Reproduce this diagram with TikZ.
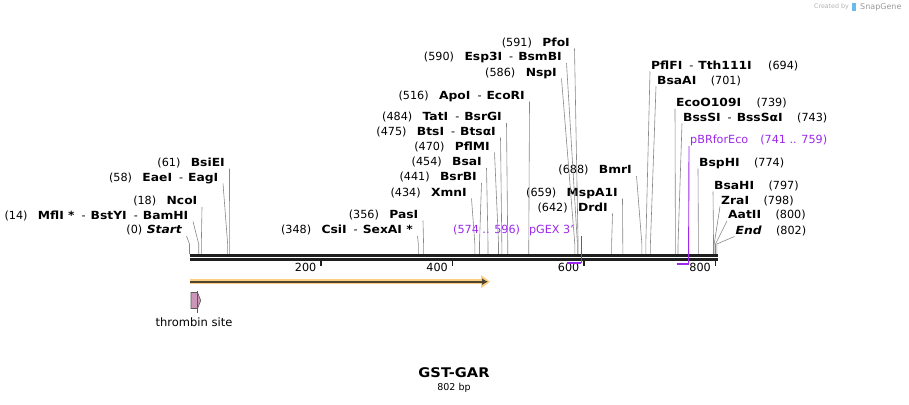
\documentclass[tikz,border=0pt]{standalone}
\usepackage{fontspec}
\setmainfont{DejaVu Sans}[BoldFeatures={FakeStretch=1.1},BoldItalicFeatures={FakeStretch=1.1}]
\usetikzlibrary{positioning,arrows.meta}
\definecolor{cutgray}{RGB}{135,135,135}
\definecolor{primer}{RGB}{155,40,235}
\definecolor{gstfill}{RGB}{253,205,128}
\definecolor{gstline}{RGB}{78,68,50}
\definecolor{thrombin}{RGB}{204,150,185}
\definecolor{logoblue}{RGB}{110,185,235}
\newcommand{\dsh}{\hspace{7pt}\textmd{-}\hspace{5pt}}

\begin{document}
\begin{tikzpicture}
[x=1pt, y=-1pt, node distance=10pt,
% STYLES
% enzyme names
enz/.style={inner sep=0pt, text height=8pt, text depth=0pt, font=\fontsize{11.2}{13}\selectfont\bfseries},
% cut positions in brackets
num/.style={inner sep=0pt, text height=8pt, text depth=0pt, font=\fontsize{11.2}{13}\selectfont},
% primer labels
prm/.style={num, text=primer},
% lines from the names to the sequence
cut/.style={draw=cutgray, line width=0.6pt},
% the sequence
ruler/.style={draw=black!88, line width=2.5pt}]

\useasboundingbox (0,0) rectangle (909,404);

% cut positions on the sequence
\foreach \p in {0,14,18,58,61,348,356,434,441,454,470,475,484,516,586,590,591,642,659,688,694,701,739,743,774,797,798,800,802}
  \coordinate (c\p) at ({189.5+0.6575*\p},254);

%%%%%%%%%%%%%%%
% left labels
\node [enz, anchor=east, font=\fontsize{11.2}{13}\selectfont\bfseries\itshape] (start) at (182,229.5) {Start};
\node [num, left=4pt of start] {(0)};
\node [enz, anchor=east] (mflI) at (188.5,215) {MflI *\dsh BstYI\dsh BamHI};
\node [num, left=of mflI] {(14)};
\node [enz, anchor=east] (ncoI) at (197.5,200.5) {NcoI};
\node [num, left=of ncoI] {(18)};
\node [enz, anchor=east] (eaeI) at (218.5,177) {EaeI\dsh EagI};
\node [num, left=of eaeI] {(58)};
\node [enz, anchor=east] (bsiEI) at (225,162) {BsiEI};
\node [num, left=of bsiEI] {(61)};
\node [enz, anchor=east] (csiI) at (413,229.5) {CsiI\dsh SexAI *};
\node [num, left=of csiI] {(348)};
\node [enz, anchor=east] (pasI) at (418.5,214) {PasI};
\node [num, left=of pasI] {(356)};
\node [enz, anchor=east] (xmnI) at (467,192) {XmnI};
\node [num, left=of xmnI] {(434)};
\node [enz, anchor=east] (bsrBI) at (477,176.5) {BsrBI};
\node [num, left=of bsrBI] {(441)};
\node [enz, anchor=east] (bsaI) at (482,161.5) {BsaI};
\node [num, left=of bsaI] {(454)};
\node [enz, anchor=east] (pflMI) at (490,146) {PflMI};
\node [num, left=of pflMI] {(470)};
\node [enz, anchor=east] (btsI) at (496,131) {BtsI\dsh BtsαI};
\node [num, left=of btsI] {(475)};
\node [enz, anchor=east] (tatI) at (502,116.5) {TatI\dsh BsrGI};
\node [num, left=of tatI] {(484)};
\node [enz, anchor=east] (apoI) at (525,95) {ApoI\dsh EcoRI};
\node [num, left=of apoI] {(516)};
\node [enz, anchor=east] (nspI) at (557,72) {NspI};
\node [num, left=of nspI] {(586)};
\node [enz, anchor=east] (esp3I) at (562,56.5) {Esp3I\dsh BsmBI};
\node [num, left=of esp3I] {(590)};
\node [enz, anchor=east] (pfoI) at (570,42) {PfoI};
\node [num, left=of pfoI] {(591)};
\node [enz, anchor=east] (drdI) at (608,207) {DrdI};
\node [num, left=of drdI] {(642)};
\node [enz, anchor=east] (mspA1I) at (618,192) {MspA1I};
\node [num, left=of mspA1I] {(659)};
\node [enz, anchor=east] (bmrI) at (632,169.5) {BmrI};
\node [num, left=of bmrI] {(688)};

% right labels
\node [enz, anchor=west] (pflFI) at (651,65) {PflFI\dsh Tth111I};
\node [num, right=16pt of pflFI] {(694)};
\node [enz, anchor=west] (bsaAI) at (657,80) {BsaAI};
\node [num, right=14pt of bsaAI] {(701)};
\node [enz, anchor=west] (ecoO109I) at (676,102) {EcoO109I};
\node [num, right=15pt of ecoO109I] {(739)};
\node [enz, anchor=west] (bssSI) at (683,117) {BssSI\dsh BssSαI};
\node [num, right=14pt of bssSI] {(743)};
\node [enz, anchor=west] (bspHI) at (699,162) {BspHI};
\node [num, right=14pt of bspHI] {(774)};
\node [enz, anchor=west] (bsaHI) at (714,185) {BsaHI};
\node [num, right=14pt of bsaHI] {(797)};
\node [enz, anchor=west] (zraI) at (721,200) {ZraI};
\node [num, right=14pt of zraI] {(798)};
\node [enz, anchor=west] (aatII) at (728,214.5) {AatII};
\node [num, right=14pt of aatII] {(800)};
\node [enz, anchor=west, font=\fontsize{11.2}{13}\selectfont\bfseries\itshape] (end) at (735.5,230) {End};
\node [num, right=14pt of end] {(802)};

% primers
\node [prm, anchor=west] (pgex) at (453,229.5) {(574 .. 596)\hspace{9pt}pGEX 3'};
\node [prm, anchor=west] (pbr) at (690,139.5) {pBRforEco\hspace{12pt}(741 .. 759)};
%%%%%%%%%%%%%%%

% Draw the links between names and cut sites
\foreach \n/\p in {start/0,mflI/14,ncoI/18,eaeI/58,bsiEI/61,csiI/348,pasI/356,xmnI/434,bsrBI/441,bsaI/454,pflMI/470,btsI/475,tatI/484,apoI/516,nspI/586,esp3I/590,pfoI/591,drdI/642,mspA1I/659,bmrI/688}
  \path[cut] ([shift={(4.5,6.5)}]\n.east) -- ([yshift=10pt]c\p) -- (c\p);
\foreach \n/\p in {pflFI/694,bsaAI/701,ecoO109I/739,bssSI/743,bspHI/774,bsaHI/797,zraI/798,aatII/800,end/802}
  \path[cut] ([shift={(-1,6.5)}]\n.west) -- ([yshift=10pt]c\p) -- (c\p);

% sequence and ticks
\draw[ruler] (189.5,255.3) -- (718.3,255.3);
\draw[ruler, line width=2.3pt] (189.5,259.5) -- (718.3,259.5);
\foreach \t in {200,400,600,800} {
  \draw[black!88, line width=1.8pt] ({189.5+0.6575*\t},258.5) -- ++(0,7.5);
  \node[num, anchor=east] at ({189.5+0.6575*\t-4.5},267) {\t};
}

% primer marks
\coordinate (pgex-a) at ({189.5+0.6575*574},263.3);
\coordinate (pgex-b) at ({189.5+0.6575*596},263.3);
\coordinate (pbr-a) at ({189.5+0.6575*741},264);
\coordinate (pbr-b) at ({189.5+0.6575*759},264);
\draw[primer, line width=0.9pt] (pgex-b |- 0,235.5) -- (pgex-b);
\draw[primer, line width=0.9pt] (pbr.west) ++(-1,6.5) -- (pbr-b);
\draw[primer, line width=1.8pt] (pgex-a) -- (pgex-b);
\draw[primer, line width=1.8pt] (pbr-a) -- (pbr-b);

% GST feature
\fill[gstfill] (190,279) rectangle (482,284.4);
\fill[gstfill] (481,275) -- (490,281.7) -- (481,288.4) -- cycle;
\draw[gstline, line width=2pt, -{Latex[length=6pt,width=7pt]}] (190,281.7) -- (488,281.7);

% thrombin site
\draw[fill=thrombin, draw=black!65, line width=0.6pt] (191,292.5) -- (197.5,292.5) -- (200.8,300.5) -- (197.5,308.5) -- (191,308.5) -- cycle;
\draw[black!65, line width=0.6pt] (197.5,290.5) -- (197.5,312.5);
\node[num, font=\fontsize{11.5}{13}\selectfont] (thrombin) at (194,322) {thrombin site};

% title
\node[inner sep=0pt, font=\fontsize{13.3}{16}\selectfont\bfseries] (title) at (454,373) {GST-GAR};
\node[inner sep=0pt, font=\fontsize{9.5}{11}\selectfont] (size) at (454,388) {802 bp};

% credit
\node[inner sep=0pt, anchor=east, text=black!30, font=\fontsize{6.3}{7}\selectfont] (created) at (849,7) {Created by};
\fill[logoblue] (852,3) rectangle (855.5,11);
\node[inner sep=0pt, anchor=west, text=black!40, font=\fontsize{8}{9}\selectfont] (snapgene) at (860,7) {SnapGene};

\end{tikzpicture}
\end{document}
